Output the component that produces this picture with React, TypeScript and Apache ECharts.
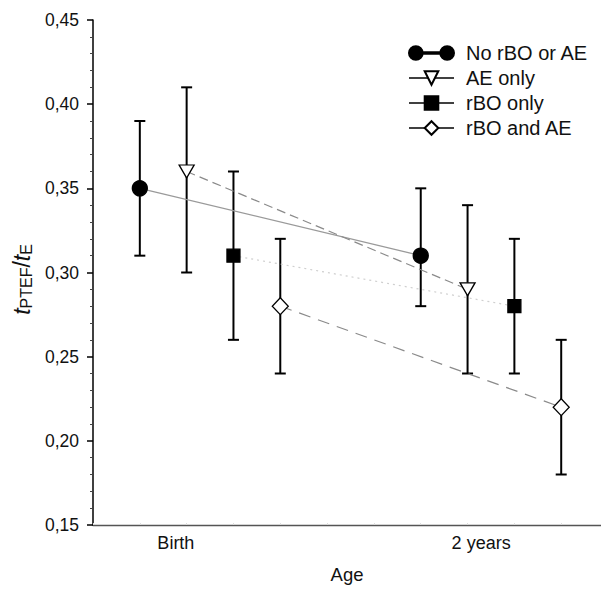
import React, { useEffect, useRef } from "react";
import * as echarts from "echarts";

const groupLabels = ["Birth", "2 years"];
const groupLabelPos = [0.77, 7.29];
const seriesNames = ["No rBO or AE", "AE only", "rBO only", "rBO and AE"];
const xPos = [
  [0, 6],
  [1, 7],
  [2, 8],
  [3, 9],
];
const means = [
  [0.35, 0.31],
  [0.36, 0.29],
  [0.31, 0.28],
  [0.28, 0.22],
];
const lows = [
  [0.31, 0.28],
  [0.30, 0.24],
  [0.26, 0.24],
  [0.24, 0.18],
];
const highs = [
  [0.39, 0.35],
  [0.41, 0.34],
  [0.36, 0.32],
  [0.32, 0.26],
];
const yTicks = [0.15, 0.2, 0.25, 0.3, 0.35, 0.4, 0.45];

const FONT = "Liberation Sans, Arial, sans-serif";

const symbols = ["circle", "triangle", "rect", "diamond"];
const symbolRotates = [0, 180, 0, 0];
const symbolSizes: any[] = [15, [15, 13], 13, [16, 17]];
const fills = ["#000", "#fff", "#000", "#fff"];
const lineStyles = [
  { color: "#9a9a9a", type: "solid", width: 1.2 },
  { color: "#8a8a8a", type: [9, 5], width: 1.2 },
  { color: "#cfcfcf", type: [2, 4], width: 1.2 },
  { color: "#8a8a8a", type: [12, 8], width: 1.2 },
];

const firstIcon =
  "path://M0,8a7,7 0 1,0 14,0a7,7 0 1,0 -14,0Z M13,7.3L33,7.3L33,8.7L13,8.7Z M32,8a7,7 0 1,0 14,0a7,7 0 1,0 -14,0Z";

export default function App() {
  const ref = useRef<HTMLDivElement>(null);
  useEffect(() => {
    if (!ref.current) return;
    const chart = echarts.init(ref.current, undefined, { renderer: "svg" });
    const errData: number[][] = [];
    seriesNames.forEach((_, s) => {
      xPos[s].forEach((x, i) => errData.push([x, lows[s][i], highs[s][i]]));
    });
    const series: any[] = seriesNames.map((name, s) => ({
      name,
      type: "line",
      data: xPos[s].map((x, i) => [x, means[s][i]]),
      symbol: symbols[s],
      symbolRotate: symbolRotates[s],
      symbolSize: symbolSizes[s],
      showAllSymbol: true,
      lineStyle: lineStyles[s],
      itemStyle: { color: fills[s], borderColor: "#000", borderWidth: 1.3 },
      z: 5,
    }));
    series.push({
      type: "custom",
      name: "err",
      z: 3,
      data: errData,
      renderItem: (params: any, api: any) => {
        const x = api.value(0);
        const lo = api.coord([x, api.value(1)]);
        const hi = api.coord([x, api.value(2)]);
        const cap = 5.5;
        const st = { stroke: "#000", lineWidth: 2 };
        return {
          type: "group",
          children: [
            { type: "line", shape: { x1: lo[0], y1: lo[1], x2: hi[0], y2: hi[1] }, style: st },
            { type: "line", shape: { x1: lo[0] - cap, y1: lo[1], x2: lo[0] + cap, y2: lo[1] }, style: st },
            { type: "line", shape: { x1: hi[0] - cap, y1: hi[1], x2: hi[0] + cap, y2: hi[1] }, style: st },
          ],
        };
      },
    });
    chart.setOption({
      animation: false,
      backgroundColor: "#fff",
      grid: { left: 93, right: 0, top: 20, bottom: 64 },
      legend: {
        left: 403,
        top: 38,
        orient: "vertical",
        itemGap: 5,
        itemWidth: 45,
        itemHeight: 17,
        data: [
          { name: seriesNames[0], icon: firstIcon },
          seriesNames[1],
          seriesNames[2],
          seriesNames[3],
        ],
        lineStyle: { color: "#000", type: "solid", width: 1.3 },
        textStyle: { fontFamily: FONT, fontSize: 20, lineHeight: 20, color: "#111", padding: [0, 0, 0, 7] },
      },
      xAxis: {
        type: "value",
        min: -1,
        max: 9.85,
        interval: 1,
        name: "Age",
        nameLocation: "middle",
        nameGap: 40,
        nameTextStyle: { fontFamily: FONT, fontSize: 18.5, color: "#111" },
        splitLine: { show: false },
        axisLine: { show: true, onZero: false, lineStyle: { color: "#555", width: 1.3 } },
        axisTick: {
          show: true,
          inside: true,
          length: 2,
          lineStyle: { color: "#ddd", width: 1 },
        },
        axisLabel: {
          customValues: groupLabelPos,
          formatter: (v: number) => {
            const i = groupLabelPos.findIndex((p) => Math.abs(p - v) < 1e-6);
            return i >= 0 ? groupLabels[i] : "";
          },
          margin: 9,
          fontFamily: FONT,
          fontSize: 18,
          color: "#111",
        },
      },
      yAxis: {
        type: "value",
        min: 0.15,
        max: 0.45,
        interval: 0.05,
        name: "{i|t}{s|PTEF}{n|/}{i|t}{s|E}",
        nameLocation: "middle",
        nameGap: 57,
        nameTextStyle: {
          fontFamily: FONT,
          color: "#111",
          padding: [0, 14, 0, 0],
          rich: {
            i: { fontSize: 23, fontStyle: "italic", fontFamily: FONT, color: "#111" },
            s: { fontSize: 16, fontFamily: FONT, color: "#111", verticalAlign: "bottom", padding: [9, 0, 0, 0] },
            n: { fontSize: 23, fontFamily: FONT, color: "#111" },
          },
        },
        splitLine: { show: false },
        axisLine: { show: true, onZero: false, lineStyle: { color: "#000", width: 1.5 } },
        axisTick: { show: true, length: 6, lineStyle: { color: "#000", width: 1.5 } },
        minorTick: { show: true, splitNumber: 5, length: 3, lineStyle: { color: "#444", width: 1 } },
        axisLabel: {
          customValues: yTicks,
          formatter: (v: number) => v.toFixed(2).replace(".", ","),
          margin: 14,
          fontFamily: FONT,
          fontSize: 17.5,
          color: "#111",
        },
      },
      series,
    });
    return () => chart.dispose();
  }, []);
  return <div ref={ref} style={{ width: 601, height: 589, position: "absolute", left: 0, top: 0 }} />;
}
